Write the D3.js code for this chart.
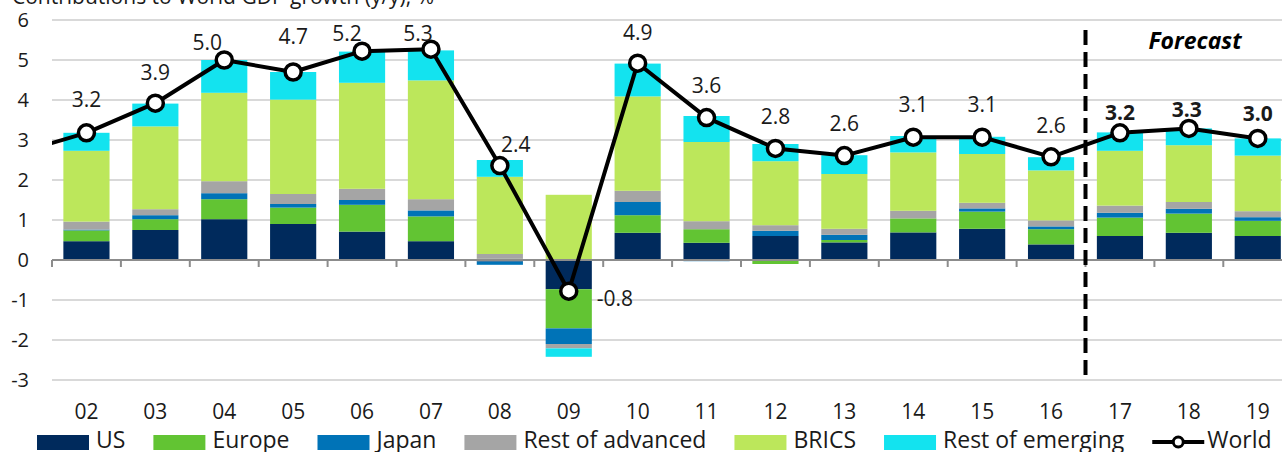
<!DOCTYPE html>
<html>
<head>
<meta charset="utf-8">
<script src="https://cdn.jsdelivr.net/npm/d3@7"></script>
<style>
  body { margin: 0; background: #fff; }
  svg { display: block; font-family: "Open Sans", "Noto Sans", sans-serif; }
</style>
</head>
<body>
<svg id="chart" width="1282" height="452"></svg>
<script>
// chart data
var years = ["02","03","04","05","06","07","08","09","10","11","12","13","14","15","16","17","18","19"];
var us      = [0.47, 0.75, 1.02, 0.90, 0.71, 0.47, -0.04, -0.73, 0.68, 0.43, 0.60, 0.44, 0.69, 0.78, 0.39, 0.60, 0.68, 0.60];
var europe  = [0.27, 0.27, 0.50, 0.41, 0.67, 0.62, 0.03, -0.98, 0.44, 0.34, -0.10, 0.06, 0.35, 0.43, 0.38, 0.46, 0.48, 0.38];
var japan   = [0.02, 0.10, 0.15, 0.09, 0.12, 0.15, -0.08, -0.39, 0.33, -0.03, 0.13, 0.13, 0.00, 0.08, 0.07, 0.12, 0.12, 0.09];
var restAdv = [0.20, 0.15, 0.30, 0.25, 0.28, 0.28, 0.12, -0.11, 0.28, 0.20, 0.14, 0.15, 0.19, 0.14, 0.15, 0.18, 0.17, 0.15];
var brics   = [1.77, 2.07, 2.21, 2.36, 2.65, 2.97, 1.93, 1.63, 2.36, 1.98, 1.60, 1.37, 1.46, 1.22, 1.25, 1.37, 1.42, 1.39];
var restEm  = [0.45, 0.57, 0.82, 0.69, 0.78, 0.75, 0.42, -0.21, 0.82, 0.65, 0.43, 0.47, 0.41, 0.43, 0.33, 0.46, 0.42, 0.43];
var world   = [3.18, 3.92, 5.00, 4.70, 5.22, 5.27, 2.36, -0.78, 4.92, 3.56, 2.79, 2.61, 3.07, 3.07, 2.58, 3.18, 3.29, 3.04];
var worldPrev = 2.67; // 01, only the segment into 02 shows
var forecastYears = ["17","18","19"];
var seriesNames = ["US","Europe","Japan","Rest of advanced","BRICS","Rest of emerging"];
var yTicks = [-3,-2,-1,0,1,2,3,4,5,6];
var title = "Contributions to World GDP growth (y/y), %";

var colors = ["#002a5c", "#62c433", "#0073b7", "#a5a5a5", "#bce75b", "#13e3ef"];

// label nudges [dx, dy] from the point, where the picture moves them
var labelNudge = {
  "02": [0,-33], "03": [0,-31], "04": [-17,-17], "05": [0,-35], "06": [-15,-18],
  "07": [-13,-16], "08": [16,-21], "10": [0,-31], "14": [0,-33], "15": [0,-33],
  "16": [0,-31], "17": [0,-20], "18": [-2,-19], "19": [0,-25]
};

var svg = d3.select("#chart");
var left = 52, step = 68.9;
var x = d3.scaleBand()
  .domain(years)
  .range([left, left + step * years.length])
  .paddingInner(0.33)
  .paddingOuter(0.165);
var y = d3.scaleLinear().domain([-3, 6]).range([380, 20]);

var rows = years.map(function(yr, i) {
  return { year: yr, us: us[i], europe: europe[i], japan: japan[i], restAdv: restAdv[i], brics: brics[i], restEm: restEm[i] };
});
var keys = ["us","europe","japan","restAdv","brics","restEm"];
var stacked = d3.stack().keys(keys).offset(d3.stackOffsetDiverging)(rows);

// title (cut off at the top)
svg.append("text")
  .attr("x", 12).attr("y", 4)
  .attr("font-size", 21).attr("fill", "#1a1a1a")
  .text(title);

// gridlines
svg.append("g").selectAll("line")
  .data(yTicks.filter(function(t) { return t !== 0; }))
  .join("line")
  .attr("x1", left).attr("x2", 1282)
  .attr("y1", function(d) { return y(d); }).attr("y2", function(d) { return y(d); })
  .attr("stroke", "#d9d9d9").attr("stroke-width", 2);

// y labels
svg.append("g").selectAll("text")
  .data(yTicks)
  .join("text")
  .attr("x", 29).attr("y", function(d) { return y(d); })
  .attr("dy", "0.35em")
  .attr("text-anchor", "end")
  .attr("font-size", 20).attr("fill", "#1a1a1a")
  .text(function(d) { return d; });

// bars
svg.append("g").selectAll("g")
  .data(stacked)
  .join("g")
  .attr("fill", function(d, i) { return colors[i]; })
  .selectAll("rect")
  .data(function(d) { return d; })
  .join("rect")
  .attr("x", function(d) { return x(d.data.year); })
  .attr("width", x.bandwidth())
  .attr("y", function(d) { return y(Math.max(d[0], d[1])); })
  .attr("height", function(d) { return Math.abs(y(d[0]) - y(d[1])); });

// zero axis with ticks at band edges
var half = x.paddingInner() * x.step() / 2;
var edges = years.map(function(yr) { return x(yr) - half; });
edges.push(x(years[years.length - 1]) + x.bandwidth() + half);
var axis = svg.append("g");
axis.append("line")
  .attr("x1", left).attr("x2", 1282)
  .attr("y1", y(0)).attr("y2", y(0))
  .attr("stroke", "#8c8c8c").attr("stroke-width", 2);
axis.selectAll("line.tick")
  .data(edges)
  .join("line")
  .attr("class", "tick")
  .attr("x1", function(d) { return d; }).attr("x2", function(d) { return d; })
  .attr("y1", y(0)).attr("y2", y(0) + 7)
  .attr("stroke", "#8c8c8c").attr("stroke-width", 2);

// x labels at bottom
svg.append("g").selectAll("text")
  .data(years)
  .join("text")
  .attr("x", function(d) { return x(d) + x.bandwidth() / 2; })
  .attr("y", 419)
  .attr("text-anchor", "middle")
  .attr("font-size", 21).attr("fill", "#1a1a1a")
  .text(function(d) { return d; });

// forecast divider
var fx = x(forecastYears[0]) - half;
svg.append("line")
  .attr("x1", fx).attr("x2", fx)
  .attr("y1", 30).attr("y2", 382)
  .attr("stroke", "#000").attr("stroke-width", 4)
  .attr("stroke-dasharray", "15,7");
svg.append("text")
  .attr("x", 1195).attr("y", 49)
  .attr("text-anchor", "middle")
  .attr("font-size", 23).attr("font-weight", "bold").attr("font-style", "italic")
  .attr("fill", "#000")
  .text("Forecast");

// world line
svg.append("clipPath").attr("id", "plotClip")
  .append("rect").attr("x", left).attr("y", 0).attr("width", 1282 - left).attr("height", 452);

var cx = function(yr) { return x(yr) + x.bandwidth() / 2; };
var pts = [[cx(years[0]) - x.step(), y(worldPrev)]].concat(years.map(function(yr, i) { return [cx(yr), y(world[i])]; }));
svg.append("path")
  .attr("clip-path", "url(#plotClip)")
  .attr("d", d3.line()(pts))
  .attr("fill", "none").attr("stroke", "#000").attr("stroke-width", 4)
  .attr("stroke-linejoin", "round");

svg.append("g").selectAll("circle")
  .data(years)
  .join("circle")
  .attr("cx", function(d) { return cx(d); })
  .attr("cy", function(d, i) { return y(world[i]); })
  .attr("r", 8)
  .attr("fill", "#fff").attr("stroke", "#000").attr("stroke-width", 3.5);

// value labels
svg.append("g").selectAll("text")
  .data(years)
  .join("text")
  .attr("x", function(d) { return d === "09" ? cx(d) + 28 : cx(d) + (labelNudge[d] || [0,-32])[0]; })
  .attr("y", function(d, i) { return d === "09" ? y(world[i]) + 7 : y(world[i]) + (labelNudge[d] || [0,-32])[1]; })
  .attr("dy", "0.35em")
  .attr("text-anchor", function(d) { return d === "09" ? "start" : "middle"; })
  .attr("font-size", 21)
  .attr("font-weight", function(d) { return forecastYears.indexOf(d) >= 0 ? "bold" : "normal"; })
  .attr("fill", "#1a1a1a")
  .text(function(d, i) { return world[i].toFixed(1); });

// legend
var lg = svg.append("g");
var lx = 37;
seriesNames.forEach(function(name, i) {
  lg.append("rect").attr("x", lx).attr("y", 435).attr("width", 52).attr("height", 15).attr("fill", colors[i]);
  var t = lg.append("text").attr("x", lx + 59).attr("y", 448)
    .attr("font-size", 23).attr("fill", "#1a1a1a").text(name);
  lx += 59 + t.node().getComputedTextLength() + 28;
});
lg.append("line").attr("x1", lx).attr("x2", lx + 52).attr("y1", 442).attr("y2", 442)
  .attr("stroke", "#000").attr("stroke-width", 4);
lg.append("circle").attr("cx", lx + 26).attr("cy", 442).attr("r", 5)
  .attr("fill", "#fff").attr("stroke", "#000").attr("stroke-width", 3);
lg.append("text").attr("x", lx + 55).attr("y", 448)
  .attr("font-size", 23).attr("fill", "#1a1a1a").text("World");
</script>
</body>
</html>
